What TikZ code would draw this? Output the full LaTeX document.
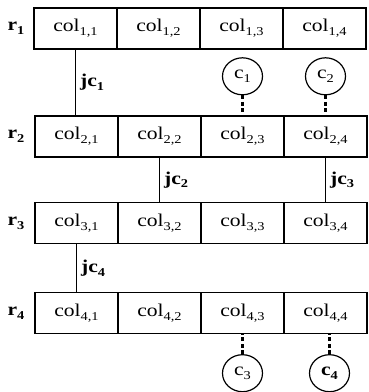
\documentclass[tikz,border=0pt]{standalone}
\usepackage{fontspec}
\setmainfont{Liberation Serif}[FakeStretch=1.2]
\usetikzlibrary{positioning, shapes.geometric}
\newcommand{\idx}[1]{\raisebox{-0.45ex}{\fontsize{12}{12}\selectfont #1}}
\tikzset{
  cell/.style={draw, line width=1.2pt, minimum width=83pt, minimum height=41pt,
               inner sep=0pt, font=\fontsize{18}{20}\selectfont},
  rlbl/.style={font=\fontsize{18}{20}\selectfont\bfseries, inner sep=1pt},
  link/.style={line width=1.2pt},
  jlbl/.style={font=\fontsize{18}{20}\selectfont\bfseries, inner sep=4pt},
  cnode/.style={ellipse, draw, line width=1.2pt, minimum width=40pt,
                minimum height=37pt, inner sep=0pt, font=\fontsize{18}{20}\selectfont},
  dlink/.style={line width=2.2pt, dash pattern=on 4pt off 2.5pt},
}
\begin{document}
\begin{tikzpicture}[x=1pt,y=-1pt]
  \useasboundingbox (0,0) rectangle (368,392);
  % rows of column cells
  \foreach \r/\y/\x in {1/28.5/34, 2/136.5/35, 3/223/35, 4/313/35} {
    \node[rlbl] (r\r) at (16,\y) {r\idx{\r}};
    \foreach \c in {1,...,4}
      \node[cell] (col\r\c) at ({\x+83*(\c-0.5)},\y) {col\idx{\r,\c}};
  }
  % join connections
  \draw[link] (col11.south) -- (col11.south |- col21.north)
        node[midway,right,jlbl]{jc\idx{1}};
  \draw[link] (col22.south) -- (col22.south |- col32.north)
        node[midway,right,jlbl]{jc\idx{2}};
  \draw[link] (col24.south) -- (col24.south |- col34.north)
        node[midway,right,jlbl]{jc\idx{3}};
  \draw[link] (col31.south) -- (col31.south |- col41.north)
        node[midway,right,jlbl]{jc\idx{4}};
  % constraints
  \node[cnode, above=20pt of col23] (c1) {c\idx{1}};
  \node[cnode, above=20pt of col24] (c2) {c\idx{2}};
  \node[cnode, below=20pt of col43] (c3) {c\idx{3}};
  \node[cnode, below=20pt of col44, xshift=4pt] (c4) {\textbf{c\idx{4}}};
  \draw[dlink] (c1) -- (col23);
  \draw[dlink] (c2) -- (col24);
  \draw[dlink] (c3) -- (col43);
  \draw[dlink] (c4) -- (c4 |- col44.south);
\end{tikzpicture}
\end{document}
